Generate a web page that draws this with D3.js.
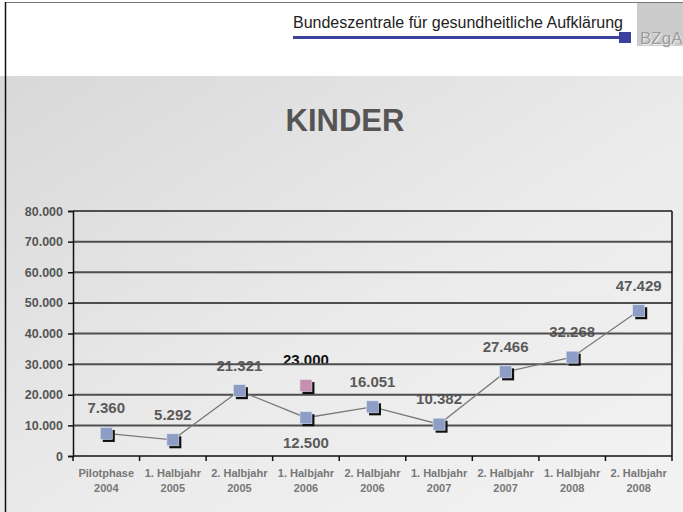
<!DOCTYPE html>
<html>
<head>
<meta charset="utf-8">
<script src="https://cdn.jsdelivr.net/npm/d3@7"></script>
<style>
  body { margin: 0; background: #fff; }
  svg { display: block; font-family: "Liberation Sans", Arial, sans-serif; }
</style>
</head>
<body>
<div id="chart"></div>
<script>
// Chart data
const periods = ['Pilotphase', '1. Halbjahr', '2. Halbjahr', '1. Halbjahr', '2. Halbjahr', '1. Halbjahr', '2. Halbjahr', '1. Halbjahr', '2. Halbjahr'];
const years = ['2004', '2005', '2005', '2006', '2006', '2007', '2007', '2008', '2008'];
const values = [7360, 5292, 21321, 12500, 16051, 10382, 27466, 32268, 47429];
const labelBelow = [false, false, false, true, false, false, false, false, false];
const targetIndex = 3;
const targetValue = 23000;
const yTicks = [0, 10000, 20000, 30000, 40000, 50000, 60000, 70000, 80000];

const W = 683;
const H = 512;
const margin = { top: 211, right: 11, bottom: 56, left: 73 };

const de = d3.formatLocale({ decimal: ',', thousands: '.', grouping: [3], currency: ['', ' €'] });
const fmt = de.format(',');

const svg = d3.select('#chart').append('svg').attr('width', W).attr('height', H);

// Background
const defs = svg.append('defs');
const grad = defs.append('linearGradient').attr('id', 'bg').attr('x1', 0).attr('y1', 0).attr('x2', 1).attr('y2', 1);
grad.append('stop').attr('offset', '0%').attr('stop-color', '#d8d8d8');
grad.append('stop').attr('offset', '55%').attr('stop-color', '#ebebeb');
grad.append('stop').attr('offset', '100%').attr('stop-color', '#f3f3f3');

svg.append('rect').attr('x', 0).attr('y', 76).attr('width', W).attr('height', H - 76).attr('fill', 'url(#bg)');
svg.append('line').attr('x1', 5).attr('x2', W).attr('y1', 2.5).attr('y2', 2.5).attr('stroke', '#777').attr('stroke-width', 1);
svg.append('line').attr('x1', 5.5).attr('x2', 5.5).attr('y1', 2).attr('y2', H).attr('stroke', '#111').attr('stroke-width', 1.5);

// Header
svg.append('text')
  .attr('x', 293).attr('y', 28)
  .attr('font-size', 16)
  .attr('fill', '#222')
  .text('Bundeszentrale für gesundheitliche Aufklärung');
svg.append('line').attr('x1', 293).attr('x2', 620).attr('y1', 37.5).attr('y2', 37.5).attr('stroke', '#3a409c').attr('stroke-width', 3);
svg.append('rect').attr('x', 619).attr('y', 32).attr('width', 12).attr('height', 11).attr('fill', '#3a409c');
svg.append('rect').attr('x', 637).attr('y', 3).attr('width', W - 637).attr('height', 43).attr('fill', '#cbcbcb');
svg.append('text')
  .attr('x', 641).attr('y', 45)
  .attr('font-size', 17)
  .attr('fill', '#f2f2f2')
  .text('BZgA');
svg.append('text')
  .attr('x', 640).attr('y', 44)
  .attr('font-size', 17)
  .attr('fill', '#9c9c9c')
  .text('BZgA');

// Title
svg.append('text')
  .attr('x', 345).attr('y', 131)
  .attr('text-anchor', 'middle')
  .attr('font-size', 31)
  .attr('font-weight', 'bold')
  .attr('fill', '#555')
  .text('KINDER');

// Scales
const x = d3.scaleBand().domain(d3.range(values.length)).range([margin.left, W - margin.right]);
const y = d3.scaleLinear().domain([0, 80000]).range([H - margin.bottom, margin.top]);
const cx = (i) => x(i) + x.bandwidth() / 2;

// Value labels (behind the grid lines, as in the original)
svg.append('g')
  .selectAll('text')
  .data(values)
  .enter()
  .append('text')
  .attr('x', (d, i) => cx(i))
  .attr('y', (d, i) => (labelBelow[i] ? y(d) + 30 : y(d) - 20))
  .attr('text-anchor', 'middle')
  .attr('font-size', 15)
  .attr('font-weight', 'bold')
  .attr('fill', '#5a5a5a')
  .text((d) => fmt(d));

svg.append('text')
  .attr('x', cx(targetIndex))
  .attr('y', y(targetValue) - 21)
  .attr('text-anchor', 'middle')
  .attr('font-size', 15)
  .attr('font-weight', 'bold')
  .attr('fill', '#111')
  .text(fmt(targetValue));

// Grid lines
svg.append('g')
  .selectAll('line')
  .data(yTicks.filter((d) => d > 0))
  .enter()
  .append('line')
  .attr('x1', margin.left)
  .attr('x2', W - margin.right)
  .attr('y1', (d) => y(d))
  .attr('y2', (d) => y(d))
  .attr('stroke', '#4e4e4e')
  .attr('stroke-width', 2);

// Y axis
const yAxis = svg.append('g')
  .attr('transform', `translate(${margin.left},0)`)
  .call(d3.axisLeft(y).tickValues(yTicks).tickSize(5).tickPadding(5).tickFormat((d) => fmt(d)));
yAxis.select('.domain').attr('stroke', '#111').attr('stroke-width', 1.5);
yAxis.selectAll('.tick line').attr('stroke', '#111').attr('stroke-width', 1.5);
yAxis.selectAll('.tick text')
  .attr('font-family', '"Liberation Sans", Arial, sans-serif')
  .attr('font-size', 12.5)
  .attr('font-weight', 'bold')
  .attr('fill', '#555');

// Right border of plot
svg.append('line')
  .attr('x1', W - margin.right).attr('x2', W - margin.right)
  .attr('y1', margin.top).attr('y2', H - margin.bottom)
  .attr('stroke', '#111').attr('stroke-width', 1.5);

// X axis with ticks at band edges
const xb = svg.append('g').attr('transform', `translate(0,${H - margin.bottom})`);
xb.append('line').attr('x1', margin.left).attr('x2', W - margin.right).attr('stroke', '#111').attr('stroke-width', 1.5);
xb.selectAll('.edge')
  .data(d3.range(values.length + 1))
  .enter()
  .append('line')
  .attr('class', 'edge')
  .attr('x1', (i) => margin.left + i * x.step())
  .attr('x2', (i) => margin.left + i * x.step())
  .attr('y1', 0).attr('y2', 5)
  .attr('stroke', '#111').attr('stroke-width', 1.5);
const xl = xb.selectAll('.lab')
  .data(d3.range(values.length))
  .enter()
  .append('text')
  .attr('class', 'lab')
  .attr('text-anchor', 'middle')
  .attr('font-size', 11)
  .attr('font-weight', 'bold')
  .attr('fill', '#777');
xl.append('tspan').attr('x', (i) => cx(i)).attr('y', 21).text((i) => periods[i]);
xl.append('tspan').attr('x', (i) => cx(i)).attr('y', 36).text((i) => years[i]);

// Line
svg.append('path')
  .datum(values)
  .attr('fill', 'none')
  .attr('stroke', '#7a7a7a')
  .attr('stroke-width', 1.3)
  .attr('d', d3.line().x((d, i) => cx(i)).y((d) => y(d)));

// Markers
const s = 12;
const markers = svg.append('g');
function marker(g, px, py, fill) {
  g.append('rect').attr('x', px - s / 2 + 2.5).attr('y', py - s / 2 + 2.5).attr('width', s).attr('height', s).attr('fill', '#111');
  g.append('rect').attr('x', px - s / 2).attr('y', py - s / 2).attr('width', s).attr('height', s)
    .attr('fill', fill).attr('stroke', '#dde3f0').attr('stroke-width', 0.6);
}
values.forEach((d, i) => marker(markers, cx(i), y(d), '#8d9dc6'));
marker(markers, cx(targetIndex), y(targetValue), '#c68fae');
</script>
</body>
</html>
